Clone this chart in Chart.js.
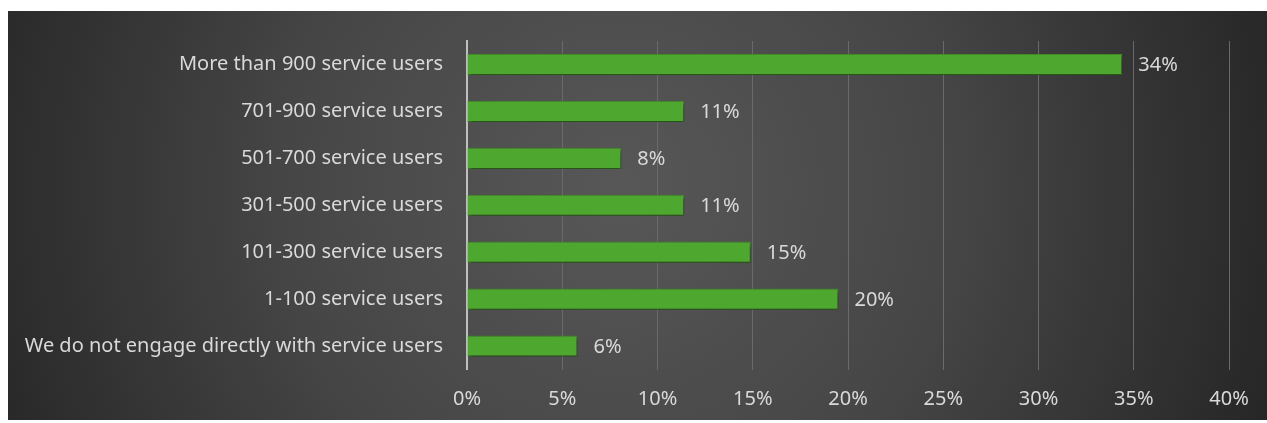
<!DOCTYPE html>
<html>
<head>
<meta charset="utf-8">
<script src="https://cdn.jsdelivr.net/npm/chart.js@4.4.1/dist/chart.umd.min.js"></script>
<style>
  html, body { margin: 0; padding: 0; background: #ffffff; }
  #wrap { width: 1267px; height: 423px; position: relative; }
</style>
</head>
<body>
<div id="wrap"><canvas id="grafico" width="1267" height="423"></canvas></div>
<script>
// categorías (de arriba a abajo) y porcentajes
const categorias = [
  'More than 900 service users',
  '701-900 service users',
  '501-700 service users',
  '301-500 service users',
  '101-300 service users',
  '1-100 service users',
  'We do not engage directly with service users'
];
const porcentajes = [34.4, 11.4, 8.1, 11.4, 14.9, 19.5, 5.8];
const ticksX = [0, 5, 10, 15, 20, 25, 30, 35, 40];

const fuente = "'Noto Sans', sans-serif";
const colorTexto = '#d9d9d9';

// fondo oscuro con degradado radial
const fondo = {
  id: 'fondo',
  beforeDraw(chart) {
    const c = chart.ctx;
    const x0 = 8, y0 = 11, x1 = chart.width, y1 = 420;
    const g = c.createRadialGradient(620, 190, 10, 620, 190, 720);
    g.addColorStop(0, '#575757');
    g.addColorStop(0.45, '#464646');
    g.addColorStop(1, '#232323');
    c.save();
    c.fillStyle = g;
    c.fillRect(x0, y0, x1 - x0, y1 - y0);
    c.restore();
  }
};

// sombra debajo de las barras
const sombra = {
  id: 'sombra',
  beforeDatasetDraw(chart) {
    const c = chart.ctx;
    c.save();
    c.shadowColor = 'rgba(0,0,0,0.45)';
    c.shadowBlur = 4;
    c.shadowOffsetX = 2;
    c.shadowOffsetY = 3;
  },
  afterDatasetDraw(chart) {
    chart.ctx.restore();
  }
};

// etiquetas de valor a la derecha de cada barra
const etiquetas = {
  id: 'etiquetas',
  afterDatasetsDraw(chart) {
    const c = chart.ctx;
    const meta = chart.getDatasetMeta(0);
    c.save();
    c.font = '20px ' + fuente;
    c.fillStyle = colorTexto;
    c.textAlign = 'left';
    c.textBaseline = 'middle';
    meta.data.forEach((bar, i) => {
      const v = chart.data.datasets[0].data[i];
      c.fillText(Math.round(v) + '%', bar.x + 16, bar.y + 1);
    });
    c.restore();
  }
};

const ctx = document.getElementById('grafico').getContext('2d');
new Chart(ctx, {
  type: 'bar',
  data: {
    labels: categorias,
    datasets: [{
      data: porcentajes,
      backgroundColor: '#4ea72e',
      borderColor: '#3f8f24',
      borderWidth: 1,
      borderSkipped: 'start',
      barPercentage: 0.9,
      categoryPercentage: 0.5
    }]
  },
  options: {
    indexAxis: 'y',
    responsive: false,
    animation: false,
    layout: { padding: { top: 41, right: 38, bottom: 0, left: 0 } },
    plugins: {
      legend: { display: false },
      tooltip: { enabled: false }
    },
    scales: {
      x: {
        min: 0,
        max: 40,
        afterBuildTicks(scale) {
          scale.ticks = ticksX.map(v => ({ value: v }));
        },
        afterFit(scale) { scale.height = 53.5; },
        grid: { color: '#6a6a6a', lineWidth: 1, drawTicks: false },
        border: { display: false },
        ticks: {
          color: colorTexto,
          font: { family: fuente, size: 20 },
          padding: 18,
          callback: v => v + '%'
        }
      },
      y: {
        afterFit(scale) { scale.width = 467; },
        grid: { display: false, drawTicks: false },
        border: { display: true, color: '#bfbfbf', width: 2 },
        ticks: {
          color: colorTexto,
          font: { family: fuente, size: 20 },
          padding: 24
        }
      }
    }
  },
  plugins: [fondo, sombra, etiquetas]
});
</script>
</body>
</html>
